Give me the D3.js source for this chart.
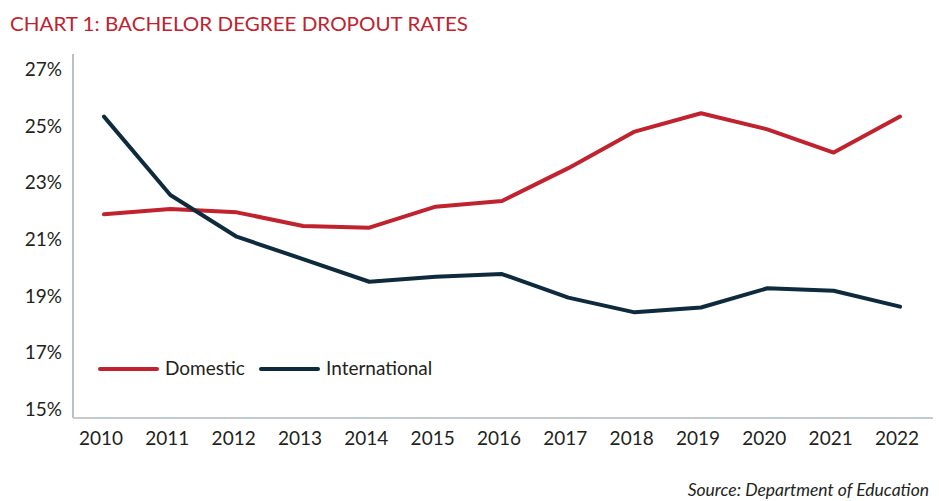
<!DOCTYPE html>
<html>
<head>
<meta charset="utf-8">
<script src="https://cdn.jsdelivr.net/npm/d3@7"></script>
<style>
  html, body { margin: 0; padding: 0; background: #fff; }
  svg { display: block; }
</style>
</head>
<body>
<svg id="chart" width="939" height="501"></svg>
<script>
const years = [2010, 2011, 2012, 2013, 2014, 2015, 2016, 2017, 2018, 2019, 2020, 2021, 2022];
const domestic = [21.87, 22.06, 21.94, 21.46, 21.40, 22.14, 22.34, 23.50, 24.79, 25.44, 24.87, 24.05, 25.32];
const international = [25.32, 22.55, 21.08, 20.29, 19.49, 19.67, 19.76, 18.93, 18.41, 18.58, 19.26, 19.17, 18.61];
const yTicks = [15, 17, 19, 21, 23, 25, 27];
const seriesNames = ["Domestic", "International"];
const seriesColors = ["#C0222E", "#0E2B3E"];
const titleText = "CHART 1: BACHELOR DEGREE DROPOUT RATES";
const sourceText = "Source: Department of Education";

const FONT = "Lato, 'Noto Sans', sans-serif";
const svg = d3.select("#chart");

const x = d3.scalePoint().domain(years).range([104, 900]);
const y = d3.scaleLinear().domain([14.68, 27.53]).range([418, 54]);

// Title
svg.append("text")
  .attr("x", 10).attr("y", 31)
  .attr("fill", "#C0222E")
  .attr("font-family", FONT)
  .attr("font-size", 20)
  .attr("textLength", 458)
  .attr("lengthAdjust", "spacingAndGlyphs")
  .text(titleText);

// Y axis
const yAxis = d3.axisLeft(y).tickValues(yTicks).tickSize(0).tickPadding(11)
  .tickFormat(d => d + "%");
const gy = svg.append("g").attr("transform", "translate(73,0)").call(yAxis);
gy.select(".domain").attr("stroke", "#8A96A0").attr("stroke-width", 1.2)
  .attr("d", `M0,54V418`);
gy.selectAll("text").attr("font-family", FONT).attr("font-size", 19).attr("fill", "#231F20")
  .attr("dy", "0.35em");

// X axis
const xAxis = d3.axisBottom(x).tickSize(0).tickPadding(14);
const gx = svg.append("g").attr("transform", "translate(0,418)").call(xAxis);
gx.select(".domain").attr("stroke", "#C3CBCF").attr("stroke-width", 2)
  .attr("d", `M73,0H933`);
gx.selectAll("text").attr("font-family", FONT).attr("font-size", 19).attr("fill", "#231F20")
  .attr("dx", -3.5).attr("dy", 0).attr("y", 27);

// Lines
const line = d3.line().x((d, i) => x(years[i])).y(d => y(d));
[domestic, international].forEach((s, k) => {
  svg.append("path").datum(s)
    .attr("d", line)
    .attr("fill", "none")
    .attr("stroke", seriesColors[k])
    .attr("stroke-width", 4)
    .attr("stroke-linejoin", "round")
    .attr("stroke-linecap", "round");
});

// Legend
const legendX = [100, 261];
seriesNames.forEach((name, k) => {
  const g = svg.append("g").attr("transform", `translate(${legendX[k]},369)`);
  g.append("line").attr("x1", 0).attr("x2", 57).attr("y1", 0).attr("y2", 0)
    .attr("stroke", seriesColors[k]).attr("stroke-width", 4).attr("stroke-linecap", "round");
  g.append("text").attr("x", 65).attr("y", 5.5)
    .attr("font-family", FONT).attr("font-size", 19).attr("fill", "#231F20")
    .text(name);
});

// Source
svg.append("text")
  .attr("x", 929).attr("y", 496)
  .attr("text-anchor", "end")
  .attr("font-family", FONT).attr("font-style", "italic")
  .attr("font-size", 17.5).attr("fill", "#231F20")
  .text(sourceText);
</script>
</body>
</html>
